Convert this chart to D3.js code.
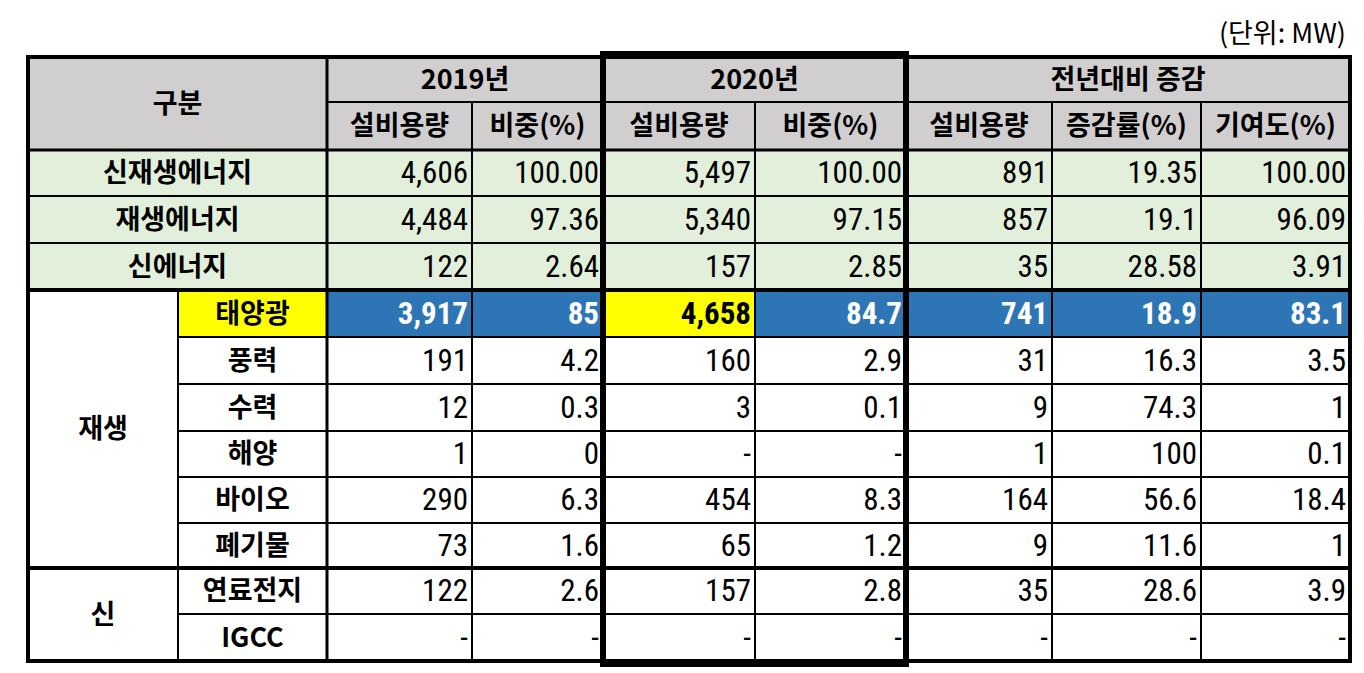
<!DOCTYPE html>
<html><head><meta charset="utf-8">
<script src="https://cdn.jsdelivr.net/npm/d3@7"></script>
<style>body{margin:0;background:#fff}text{font-family:"Noto Sans CJK KR","Noto Sans",sans-serif}</style>
</head><body><svg id="chart"></svg>
<script>
'use strict';
const WIDTH = 1364, HEIGHT = 673;

const years = ['2019년', '2020년', '전년대비 증감'];
const subHeads = ['설비용량', '비중(%)', '설비용량', '비중(%)', '설비용량', '증감률(%)', '기여도(%)'];
const totalLabels = ['신재생에너지', '재생에너지', '신에너지'];
const totalValues = [
    ['4,606', '100.00', '5,497', '100.00', '891', '19.35', '100.00'],
    ['4,484', '97.36', '5,340', '97.15', '857', '19.1', '96.09'],
    ['122', '2.64', '157', '2.85', '35', '28.58', '3.91']
];
const groups = [{name: '재생', n: 6}, {name: '신', n: 2}];
const sources = ['태양광', '풍력', '수력', '해양', '바이오', '폐기물', '연료전지', 'IGCC'];
const sourceValues = [
    ['3,917', '85', '4,658', '84.7', '741', '18.9', '83.1'],
    ['191', '4.2', '160', '2.9', '31', '16.3', '3.5'],
    ['12', '0.3', '3', '0.1', '9', '74.3', '1'],
    ['1', '0', '-', '-', '1', '100', '0.1'],
    ['290', '6.3', '454', '8.3', '164', '56.6', '18.4'],
    ['73', '1.6', '65', '1.2', '9', '11.6', '1'],
    ['122', '2.6', '157', '2.8', '35', '28.6', '3.9'],
    ['-', '-', '-', '-', '-', '-', '-']
];

const COLOR = {HEAD: '#d0cece', TOTAL: '#e2efda', BLUE: '#2e75b6', YELLOW: '#ffff00'};
const NUM_FONT = '"Liberation Sans Narrow", "Roboto Condensed", "Open Sans", sans-serif';

// column edges, row edges
const colX = [28, 178, 327, 472, 603, 755, 906, 1052, 1201, 1350];
const rowY = [57, 102, 150, 196, 243, 290, 337, 384, 431, 477, 523, 568, 614, 661];

const svg = d3.select('#chart').attr('width', WIDTH).attr('height', HEIGHT);
const g = svg.append('g');

function cell(x0, x1, y0, y1, fill, label, opt) {
    opt = opt || {};
    g.append('rect').attr('x', x0).attr('y', y0).attr('width', x1 - x0).attr('height', y1 - y0)
        .attr('fill', fill).attr('stroke', '#000').attr('stroke-width', 2);
    if (label == null) return;
    const right = opt.align == 'right';
    const t = g.append('text')
        .attr('x', right ? x1 - 4 : (x0 + x1) / 2)
        .attr('y', (y0 + y1) / 2 + 2)
        .attr('text-anchor', right ? 'end' : 'middle')
        .attr('dominant-baseline', 'middle')
        .attr('font-size', opt.size || 27)
        .attr('font-weight', opt.bold ? 700 : 400)
        .attr('fill', opt.color || '#000')
        .text(label);
    if (right) t.style('font-family', NUM_FONT);
}

// header
cell(colX[0], colX[2], rowY[0], rowY[2], COLOR.HEAD, '구분', {bold: true});
cell(colX[2], colX[4], rowY[0], rowY[1], COLOR.HEAD, years[0], {bold: true});
cell(colX[4], colX[6], rowY[0], rowY[1], COLOR.HEAD, years[1], {bold: true});
cell(colX[6], colX[9], rowY[0], rowY[1], COLOR.HEAD, years[2], {bold: true});
subHeads.forEach(function(h, i) {
    cell(colX[i + 2], colX[i + 3], rowY[1], rowY[2], COLOR.HEAD, h, {bold: true});
});

// totals
totalLabels.forEach(function(l, r) {
    cell(colX[0], colX[2], rowY[r + 2], rowY[r + 3], COLOR.TOTAL, l, {bold: true});
    totalValues[r].forEach(function(v, i) {
        cell(colX[i + 2], colX[i + 3], rowY[r + 2], rowY[r + 3], COLOR.TOTAL, v, {align: 'right', size: 31});
    });
});

// groups
let r0 = 5;
groups.forEach(function(gr) {
    cell(colX[0], colX[1], rowY[r0], rowY[r0 + gr.n], '#fff', gr.name, {bold: true});
    r0 += gr.n;
});
sources.forEach(function(s, r) {
    const y0 = rowY[r + 5], y1 = rowY[r + 6];
    const first = r == 0;
    cell(colX[1], colX[2], y0, y1, first ? COLOR.YELLOW : '#fff', s, {bold: true});
    sourceValues[r].forEach(function(v, i) {
        let fill = '#fff', color = '#000';
        if (first) {
            fill = i == 2 ? COLOR.YELLOW : COLOR.BLUE;
            color = i == 2 ? '#000' : '#fff';
        }
        cell(colX[i + 2], colX[i + 3], y0, y1, fill, v, {align: 'right', size: 31, bold: first, color: color});
    });
});

// thick borders
function thick(x1, y1, x2, y2, w) {
    g.append('line').attr('x1', x1).attr('y1', y1).attr('x2', x2).attr('y2', y2)
        .attr('stroke', '#000').attr('stroke-width', w || 4);
}
g.append('rect').attr('x', colX[0]).attr('y', rowY[0]).attr('width', colX[9] - colX[0])
    .attr('height', rowY[13] - rowY[0]).attr('fill', 'none').attr('stroke', '#000').attr('stroke-width', 4);
thick(colX[0], rowY[5], colX[9], rowY[5]);
thick(colX[0], rowY[11], colX[9], rowY[11]);
thick(colX[0], rowY[2], colX[9], rowY[2], 3);
thick(colX[2], rowY[0], colX[2], rowY[13], 3);
g.append('rect').attr('x', colX[4]).attr('y', 54).attr('width', colX[6] - colX[4])
    .attr('height', 610).attr('fill', 'none').attr('stroke', '#000').attr('stroke-width', 6);

g.append('text').attr('x', 1346).attr('y', 43).attr('text-anchor', 'end')
    .attr('font-size', 27).text('(단위: MW)');
</script></body></html>
